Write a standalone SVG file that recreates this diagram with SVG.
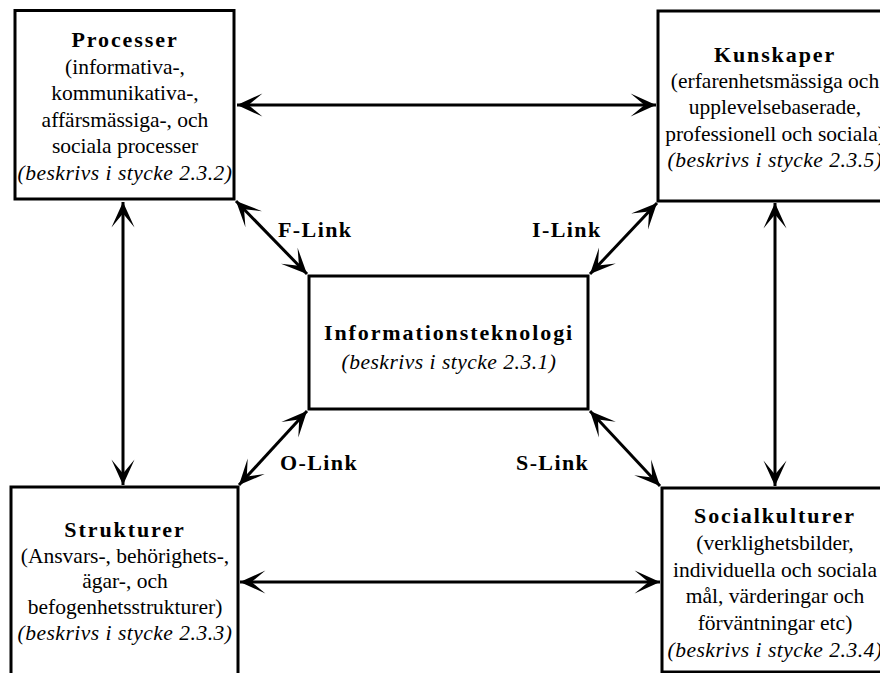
<svg xmlns="http://www.w3.org/2000/svg" width="880" height="673" viewBox="0 0 880 673">
<defs>
<marker id="ah" markerUnits="userSpaceOnUse" markerWidth="30" markerHeight="30" viewBox="-24 -12 26 24" refX="0" refY="0" orient="auto-start-reverse">
<path d="M0,0 L-22,-10 L-10,0 L-22,10 Z" fill="#000"/>
</marker>
</defs>
<style>
.box{fill:#fff;stroke:#000;stroke-width:3}
.t{font-family:"Liberation Serif","Times New Roman",serif;font-size:22px;font-weight:bold;letter-spacing:1.9px;text-anchor:middle;fill:#000}
.r{font-family:"Liberation Serif","Times New Roman",serif;font-size:21.5px;text-anchor:middle;fill:#000}
.i{font-family:"Liberation Serif","Times New Roman",serif;font-size:21.5px;font-style:italic;letter-spacing:0.5px;text-anchor:middle;fill:#000}
.lbl{font-family:"Liberation Serif","Times New Roman",serif;font-size:22px;font-weight:bold;letter-spacing:1.4px;fill:#000}
.c{stroke:#000;stroke-width:3;fill:none;marker-start:url(#ah);marker-end:url(#ah)}
</style>
<rect width="880" height="673" fill="#fff"/>
<g id="connectors">
<line class="c" x1="237" y1="105" x2="656" y2="105"/>
<line class="c" x1="240" y1="582" x2="660" y2="582"/>
<line class="c" x1="123" y1="202" x2="123" y2="485"/>
<line class="c" x1="775" y1="203" x2="775" y2="486"/>
<line class="c" x1="236" y1="201" x2="307" y2="274"/>
<line class="c" x1="657" y1="203" x2="590" y2="274"/>
<line class="c" x1="307" y1="411" x2="239" y2="485"/>
<line class="c" x1="590" y1="411" x2="660" y2="486"/>
<text class="lbl" x="278" y="237">F-Link</text>
<text class="lbl" x="532" y="237">I-Link</text>
<text class="lbl" x="280" y="470">O-Link</text>
<text class="lbl" x="516" y="470">S-Link</text>
</g>
<g id="processer">
<rect class="box" x="15" y="10.5" width="219" height="188.5"/>
<text class="t" x="125" y="47">Processer</text>
<text class="r" x="125" y="73.5">(informativa-,</text>
<text class="r" x="125" y="100">kommunikativa-,</text>
<text class="r" x="125" y="126.5">affärsmässiga-, och</text>
<text class="r" x="125" y="153">sociala processer</text>
<text class="i" x="125" y="179.5">(beskrivs i stycke 2.3.2)</text>
</g>
<g id="kunskaper">
<rect class="box" x="658" y="11" width="240" height="190"/>
<text class="t" x="775" y="61.5">Kunskaper</text>
<text class="r" x="775" y="88">(erfarenhetsmässiga och</text>
<text class="r" x="775" y="114">upplevelsebaserade,</text>
<text class="r" x="775" y="140.5">professionell och sociala)</text>
<text class="i" x="775" y="167">(beskrivs i stycke 2.3.5)</text>
</g>
<g id="informationsteknologi">
<rect class="box" x="309" y="276" width="279" height="133"/>
<text class="t" x="449" y="340">Informationsteknologi</text>
<text class="i" x="449" y="369">(beskrivs i stycke 2.3.1)</text>
</g>
<g id="strukturer">
<rect class="box" x="11" y="487" width="227" height="200"/>
<text class="t" x="125" y="537">Strukturer</text>
<text class="r" x="125" y="562.5">(Ansvars-, behörighets-,</text>
<text class="r" x="125" y="588">ägar-, och</text>
<text class="r" x="125" y="614">befogenhetsstrukturer)</text>
<text class="i" x="125" y="640">(beskrivs i stycke 2.3.3)</text>
</g>
<g id="socialkulturer">
<rect class="box" x="662" y="488" width="240" height="184"/>
<text class="t" x="775" y="523">Socialkulturer</text>
<text class="r" x="775" y="549.8">(verklighetsbilder,</text>
<text class="r" x="775" y="576.6">individuella och sociala</text>
<text class="r" x="775" y="603.4">mål, värderingar och</text>
<text class="r" x="775" y="630.2">förväntningar etc)</text>
<text class="i" x="775" y="657">(beskrivs i stycke 2.3.4)</text>
</g>
</svg>
